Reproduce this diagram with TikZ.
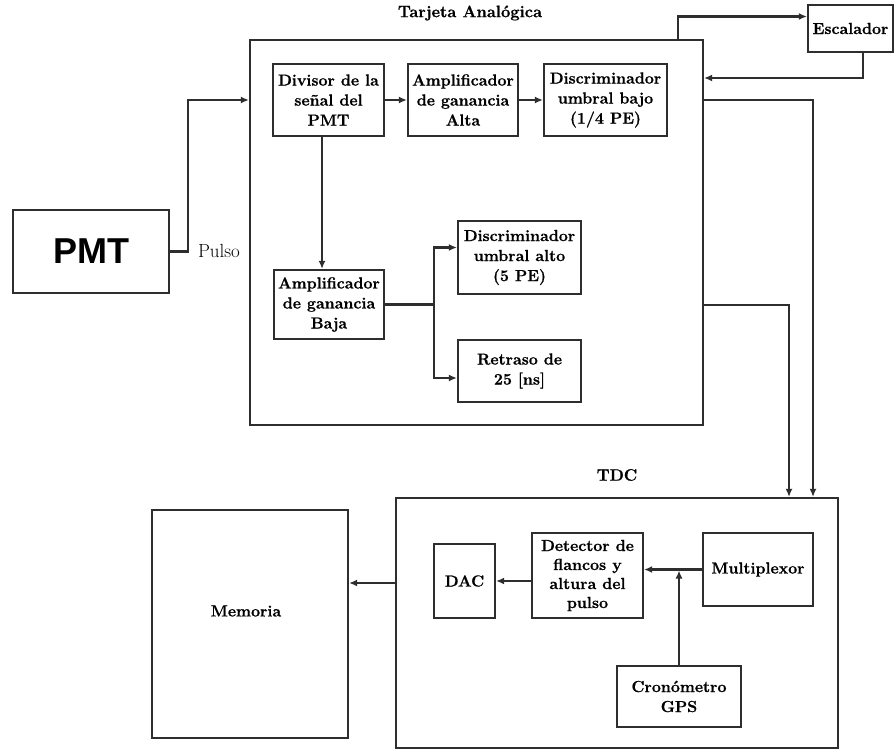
\documentclass[tikz,border=0pt]{standalone}
\usepackage{fontspec}
\setmainfont{Latin Modern Roman}[BoldFeatures={FakeBold=0.8}]
\newfontfamily\pmtfont{Liberation Sans}
\usetikzlibrary{arrows.meta}
\newcommand\blocktext{\fontsize{16}{20}\selectfont\bfseries}
\newcommand\headtext{\fontsize{16.5}{20}\selectfont\bfseries}
\begin{document}
\begin{tikzpicture}[x=1pt,y=-1pt,
  wire/.style={line width=2.2pt, draw=black!82},
  arr/.style={wire, -{Latex[length=8pt,width=7pt]}},
  block/.style={draw=black!82, line width=2.2pt, fill=white, inner sep=0pt,
                align=center, font=\blocktext},
  frame/.style={draw=black!82, line width=2.2pt, inner sep=0pt}
]
\fill[white] (0,0) rectangle (894,751);
\useasboundingbox (0,0) rectangle (894,751);

% enclosing boards
\node[frame, minimum width=453, minimum height=385] (tarjeta) at (476.5,232.5) {};
\node[frame, minimum width=442, minimum height=250] (tdc) at (617,623) {};
\node[font=\headtext] (tarjetatitle) at (470,13) {Tarjeta Analógica};
\node[font=\headtext] (tdctitle) at (617,475) {TDC};

% detector and pulse
\node[block, minimum width=156, minimum height=83,
      font={\pmtfont\fontsize{36}{40}\selectfont\bfseries}] (pmt) at (91,251.5) {PMT};
\node[font=\fontsize{19}{22}\selectfont] (pulso) at (219,251) {Pulso};

% analog board blocks
\node[block, minimum width=111, minimum height=72] (divisor) at (328.5,100) {Divisor de la\\señal del\\PMT};
\node[block, minimum width=110, minimum height=72] (ampA) at (463,100) {Amplificador\\de ganancia\\Alta};
\node[block, minimum width=123, minimum height=72] (discB) at (605.5,100) {Discriminador\\umbral bajo\\(1/4 PE)};
\node[block, minimum width=110, minimum height=69] (ampB) at (329,304.5) {Amplificador\\de ganancia\\Baja};
\node[block, minimum width=123, minimum height=73] (discA) at (519.5,257.5) {Discriminador\\umbral alto\\(5 PE)};
\node[block, minimum width=123, minimum height=62] (retraso) at (519.5,371) {Retraso de\\25 [ns]};
\node[block, minimum width=85, minimum height=47] (escalador) at (850.5,28.5) {Escalador};

% TDC blocks
\node[block, minimum width=196, minimum height=228] (memoria) at (250,624) {};
\node[font=\blocktext] (memorialabel) at (246,611) {Memoria};
\node[block, minimum width=61, minimum height=74] (dac) at (464.5,581) {DAC};
\node[block, minimum width=111, minimum height=85,
      font={\fontsize{16}{19}\selectfont\bfseries}] (detector) at (587.5,575.5) {Detector de\\flancos y\\altura del\\pulso};
\node[block, minimum width=110, minimum height=73] (mux) at (758,569.5) {Multiplexor};
\node[block, minimum width=124, minimum height=61] (cron) at (679,696.5) {Cronómetro\\GPS};

% connections on the analog board
\draw[arr] (pmt.east) -- ++(18,0) |- (tarjeta.west |- divisor.west);
\draw[arr] (divisor.east) -- (ampA.west);
\draw[arr] (ampA.east) -- (discB.west);
\draw[arr] (divisor.south -| 322,0) -- (ampB.north -| 322,0);
\draw[wire] (ampB.east) -- ++(49,0) coordinate (fork);
\draw[arr] (fork) |- ([yshift=10pt]discA.west);
\draw[arr] (fork) |- ([yshift=-7pt]retraso.west);

% scaler loop and outputs to the TDC
\draw[arr] (tarjeta.north -| 678,0) |- ([yshift=12pt]escalador.west);
\draw[arr] (escalador.south -| 863,0) |- (tarjeta.east |- 0,78);
\draw[arr] (tarjeta.east |- 0,100) -| (tdc.north -| 813,0);
\draw[arr] (tarjeta.east |- 0,305) -| (tdc.north -| 789,0);

% connections inside the TDC
\draw[arr] (tdc.west |- 0,583) -- (memoria.east |- 0,583);
\draw[arr] (mux.west) -- (detector.east |- mux.west);
\draw[arr, shorten >=1pt] (cron.north) -- (cron.north |- mux.west);
\draw[arr] (detector.west |- dac.east) -- (dac.east);
\end{tikzpicture}
\end{document}
